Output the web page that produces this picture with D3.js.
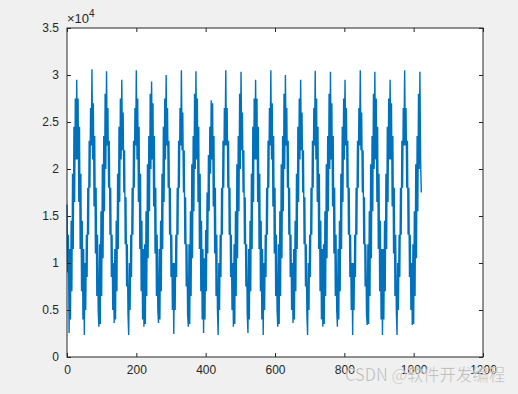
<!DOCTYPE html>
<html>
<head>
<meta charset="utf-8">
<script src="https://cdn.jsdelivr.net/npm/d3@7"></script>
<style>
  body { margin: 0; background: #f0f0f0; }
  svg { display: block; font-family: "Liberation Sans", Arial, sans-serif; }
</style>
</head>
<body>
<div id="chart"></div>
<script>
// signal, in thousands, one value every 2 samples (sample = index*2)
const sampleStep = 2
const signal = [
  16.2, 9.0, 13.0, 2.55,
  11.5, 4.0, 14.5, 7.0, 19.5, 11.5, 24.5, 16.5, 27.5, 21.0, 29.5, 21.0, 27.5, 16.5, 24.5, 11.5, 19.5, 7.0, 14.5, 4.0, 11.5, 2.34,
  10.0, 5.0, 13.0, 8.5, 18.0, 13.0, 23.0, 18.0, 26.5, 22.5, 30.6, 21.0, 27.0, 16.0, 23.5, 11.0, 18.0, 6.5, 13.0, 5.0, 3.22,
  12.0, 3.5, 15.5, 6.5, 20.5, 10.5, 23.5, 15.5, 28.0, 20.0, 30.4, 22.5, 26.5, 18.0, 23.0, 13.0, 18.0, 8.5, 13.0, 5.0, 10.0, 3.62,
  11.5, 4.0, 14.5, 7.0, 19.5, 11.5, 24.5, 16.5, 27.5, 21.0, 29.5, 22.0, 26.0, 17.5, 22.0, 12.0, 17.0, 7.5, 12.0, 4.5, 2.34,
  10.0, 5.0, 13.0, 8.5, 18.0, 13.0, 23.0, 18.0, 26.5, 22.5, 30.5, 21.0, 27.5, 16.5, 24.5, 11.5, 19.5, 7.0, 14.5, 4.0, 11.5, 3.22,
  12.0, 3.5, 15.5, 6.5, 20.5, 10.5, 23.5, 15.5, 28.0, 20.0, 29.3, 21.0, 27.0, 16.0, 23.5, 11.0, 18.0, 6.5, 13.0, 5.0, 3.62,
  11.5, 4.0, 14.5, 7.0, 19.5, 11.5, 24.5, 16.5, 27.5, 21.0, 30.0, 22.5, 26.5, 18.0, 23.0, 13.0, 18.0, 8.5, 13.0, 5.0, 10.0, 2.45,
  10.0, 5.0, 13.0, 8.5, 18.0, 13.0, 23.0, 18.0, 26.5, 22.5, 30.5, 22.0, 26.0, 17.5, 22.0, 12.0, 17.0, 7.5, 12.0, 4.5, 3.22,
  12.0, 3.5, 15.5, 6.5, 20.5, 10.5, 23.5, 15.5, 28.0, 20.0, 30.4, 21.0, 27.5, 16.5, 24.5, 11.5, 19.5, 7.0, 14.5, 4.0, 11.5, 2.55,
  10.5, 4.0, 13.5, 7.0, 17.5, 11.0, 21.5, 15.5, 24.5, 19.5, 27.3, 21.0, 27.0, 16.0, 23.5, 11.0, 18.0, 6.5, 13.0, 5.0, 2.34,
  10.0, 5.0, 13.0, 8.5, 18.0, 13.0, 23.0, 18.0, 26.5, 22.5, 30.5, 22.5, 26.5, 18.0, 23.0, 13.0, 18.0, 8.5, 13.0, 5.0, 10.0, 3.22,
  12.0, 3.5, 15.5, 6.5, 20.5, 10.5, 23.5, 15.5, 28.0, 20.0, 30.35, 22.0, 26.0, 17.5, 22.0, 12.0, 17.0, 7.5, 12.0, 4.5, 2.55,
  11.5, 4.0, 14.5, 7.0, 19.5, 11.5, 24.5, 16.5, 27.5, 21.0, 29.5, 21.0, 27.5, 16.5, 24.5, 11.5, 19.5, 7.0, 14.5, 4.0, 11.5, 2.34,
  10.0, 5.0, 13.0, 8.5, 18.0, 13.0, 23.0, 18.0, 26.5, 22.5, 30.5, 21.0, 27.0, 16.0, 23.5, 11.0, 18.0, 6.5, 13.0, 5.0, 3.22,
  12.0, 3.5, 15.5, 6.5, 20.5, 10.5, 23.5, 15.5, 28.0, 20.0, 30.0, 22.5, 26.5, 18.0, 23.0, 13.0, 18.0, 8.5, 13.0, 5.0, 10.0, 3.62,
  11.5, 4.0, 14.5, 7.0, 19.5, 11.5, 24.5, 16.5, 27.5, 21.0, 29.5, 22.0, 26.0, 17.5, 22.0, 12.0, 17.0, 7.5, 12.0, 4.5, 2.34,
  10.0, 5.0, 13.0, 8.5, 18.0, 13.0, 23.0, 18.0, 26.5, 22.5, 30.45, 21.0, 27.5, 16.5, 24.5, 11.5, 19.5, 7.0, 14.5, 4.0, 11.5, 3.22,
  12.0, 3.5, 15.5, 6.5, 20.5, 10.5, 23.5, 15.5, 28.0, 20.0, 30.35, 21.0, 27.0, 16.0, 23.5, 11.0, 18.0, 6.5, 13.0, 5.0, 3.22,
  11.5, 4.0, 14.5, 7.0, 19.5, 11.5, 24.5, 16.5, 27.5, 21.0, 29.5, 22.5, 26.5, 18.0, 23.0, 13.0, 18.0, 8.5, 13.0, 5.0, 10.0, 2.34,
  10.0, 5.0, 13.0, 8.5, 18.0, 13.0, 23.0, 18.0, 26.5, 22.5, 30.5, 22.0, 26.0, 17.5, 22.0, 12.0, 17.0, 7.5, 12.0, 4.5, 3.4,
  12.0, 3.5, 15.5, 6.5, 20.5, 10.5, 23.5, 15.5, 28.0, 20.0, 30.35, 21.0, 27.5, 16.5, 24.5, 11.5, 19.5, 7.0, 14.5, 4.0, 11.5, 2.34,
  11.5, 4.0, 14.5, 7.0, 19.5, 11.5, 24.5, 16.5, 27.5, 21.0, 29.5, 21.0, 27.0, 16.0, 23.5, 11.0, 18.0, 6.5, 13.0, 5.0, 2.34,
  10.0, 5.0, 13.0, 8.5, 18.0, 13.0, 23.0, 18.0, 26.5, 22.5, 30.5, 22.5, 26.5, 18.0, 23.0, 13.0, 18.0, 8.5, 13.0, 5.0, 10.0, 3.4,
  12.0, 3.5, 15.5, 6.5, 20.5, 10.5, 23.5, 15.5, 28.0, 20.0, 30.35, 21.0, 17.5
]
const xTicks = [0, 200, 400, 600, 800, 1000, 1200]
const yTicks = [0, 5000, 10000, 15000, 20000, 25000, 30000, 35000]
const yTickLabels = ["0", "0.5", "1", "1.5", "2", "2.5", "3", "3.5"]
const watermark = "CSDN @软件开发编程"

console.log(signal.length)

// set the dimensions and margins of the graph
var margin = {top: 28, right: 35, bottom: 37, left: 67},
    width = 518 - margin.left - margin.right,
    height = 394 - margin.top - margin.bottom;

var svg = d3.select("#chart")
  .append("svg")
    .attr("width", 518)
    .attr("height", 394)

svg.append("rect")
  .attr("width", 518).attr("height", 394)
  .attr("fill", "#f0f0f0")

var g = svg.append("g")
  .attr("transform", "translate(" + margin.left + "," + margin.top + ")");

g.append("rect")
  .attr("width", width).attr("height", height)
  .attr("fill", "#ffffff")

var x = d3.scaleLinear().domain([0, 1200]).range([0, width]);
var y = d3.scaleLinear().domain([0, 35000]).range([height, 0]);

// the line (values are stored in thousands)
var line = d3.line()
  .x((d, i) => x(i * sampleStep))
  .y(d => y(d * 1000))

g.append("path")
  .datum(signal)
  .attr("fill", "none")
  .attr("stroke", "#0072bd")
  .attr("stroke-width", 1.4)
  .attr("d", line)

// axes, ticks pointing inwards on all four sides
const axisColor = "#262626"
function styleAxis(sel) {
  sel.select(".domain").remove()
  sel.selectAll(".tick line").attr("stroke", axisColor)
  sel.selectAll(".tick text").attr("fill", axisColor).style("font-size", "12px")
}

g.append("g")
  .attr("transform", "translate(0," + height + ")")
  .call(d3.axisBottom(x).tickValues(xTicks).tickFormat(d3.format("d")).tickSizeInner(-4).tickPadding(8))
  .call(styleAxis)

g.append("g")
  .call(d3.axisLeft(y).tickValues(yTicks).tickFormat((d, i) => yTickLabels[i]).tickSizeInner(-4).tickPadding(8))
  .call(styleAxis)

g.append("g")
  .call(d3.axisTop(x).tickValues(xTicks).tickSizeInner(-4).tickFormat(""))
  .call(styleAxis)

g.append("g")
  .attr("transform", "translate(" + width + ",0)")
  .call(d3.axisRight(y).tickValues(yTicks).tickSizeInner(-4).tickFormat(""))
  .call(styleAxis)

// box
g.append("rect")
  .attr("width", width).attr("height", height)
  .attr("fill", "none")
  .attr("stroke", axisColor)
  .attr("stroke-width", 1)

// exponent label
var expo = g.append("text")
  .attr("x", 0)
  .attr("y", -5)
  .attr("fill", axisColor)
  .style("font-size", "13px")
expo.append("tspan").text("×10")
expo.append("tspan").attr("dy", -6).style("font-size", "10px").text("4")

// watermark (overlaps the last tick labels, as in the picture)
svg.append("text")
  .attr("x", 345)
  .attr("y", 381)
  .attr("textLength", 160)
  .attr("lengthAdjust", "spacingAndGlyphs")
  .attr("fill", "#a8a8a8")
  .attr("fill-opacity", 0.85)
  .attr("stroke", "#ffffff")
  .attr("stroke-width", 0.6)
  .attr("stroke-opacity", 0.6)
  .style("font-size", "17px")
  .style("font-family", "'Noto Sans CJK SC', 'Liberation Sans', sans-serif")
  .text(watermark)
</script>
</body>
</html>
